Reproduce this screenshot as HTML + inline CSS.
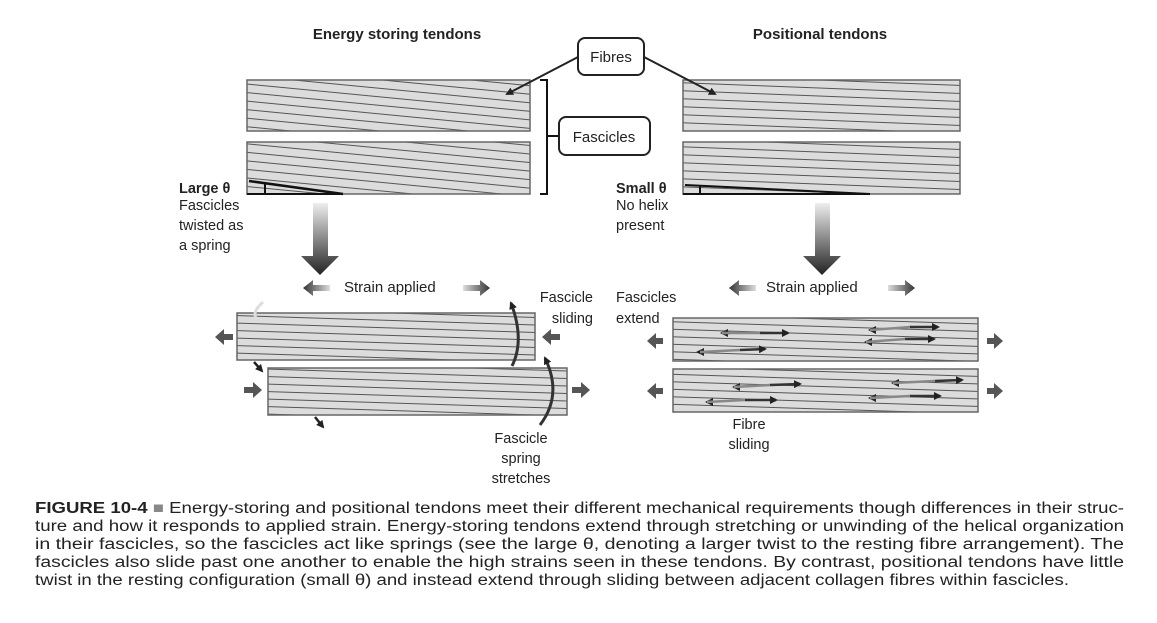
<!DOCTYPE html>
<html><head><meta charset="utf-8"><style>
html,body{margin:0;padding:0;background:#fff}
svg{display:block}
text{font-family:"Liberation Sans",sans-serif;fill:#222}
</style></head><body>
<svg width="1157" height="623" viewBox="0 0 1157 623" xmlns="http://www.w3.org/2000/svg">
<defs>
<pattern id="pL" width="40" height="8.5" patternUnits="userSpaceOnUse" patternTransform="rotate(5.5)"><rect width="40" height="8.5" fill="#dcdcdc"/><line x1="0" y1="0.5" x2="40" y2="0.5" stroke="#555" stroke-width="1"/></pattern>
<pattern id="pR" width="40" height="8" patternUnits="userSpaceOnUse" patternTransform="rotate(2.2)"><rect width="40" height="8" fill="#dcdcdc"/><line x1="0" y1="0.5" x2="40" y2="0.5" stroke="#555" stroke-width="1"/></pattern>
<pattern id="pB" width="40" height="7.5" patternUnits="userSpaceOnUse" patternTransform="rotate(1.8)"><rect width="40" height="7.5" fill="#dcdcdc"/><line x1="0" y1="0.5" x2="40" y2="0.5" stroke="#555" stroke-width="1"/></pattern>
<linearGradient id="gd" x1="0" y1="0" x2="0" y2="1"><stop offset="0" stop-color="#eee"/><stop offset="1" stop-color="#222"/></linearGradient>
<linearGradient id="gl" x1="1" y1="0" x2="0" y2="0"><stop offset="0" stop-color="#ddd"/><stop offset="1" stop-color="#333"/></linearGradient>
<linearGradient id="gr" x1="0" y1="0" x2="1" y2="0"><stop offset="0" stop-color="#ddd"/><stop offset="1" stop-color="#333"/></linearGradient>
<marker id="ah" markerWidth="8" markerHeight="8" refX="6" refY="4" orient="auto" markerUnits="userSpaceOnUse"><path d="M0,0 L8,4 L0,8 Z" fill="#222"/></marker>
</defs>

<text x="397" y="39" font-size="15" font-weight="bold" text-anchor="middle">Energy storing tendons</text>
<text x="820" y="39" font-size="15" font-weight="bold" text-anchor="middle">Positional tendons</text>

<rect x="247" y="80" width="283" height="51" fill="url(#pL)" stroke="#666" stroke-width="1.5"/>
<rect x="247" y="142" width="283" height="52" fill="url(#pL)" stroke="#666" stroke-width="1.5"/>
<path d="M249,181 L343,194" stroke="#111" stroke-width="2.5" fill="none"/>
<path d="M247,194 L343,194 M265,182 L265,194" stroke="#111" stroke-width="2" fill="none"/>
<rect x="683" y="80" width="277" height="51" fill="url(#pR)" stroke="#666" stroke-width="1.5"/>
<rect x="683" y="142" width="277" height="52" fill="url(#pR)" stroke="#666" stroke-width="1.5"/>
<path d="M685,185 L870,194 L683,194" stroke="#111" stroke-width="2" fill="none"/>
<path d="M700,185 L700,194" stroke="#111" stroke-width="2"/>

<path d="M540,80 L547,80 L547,194 L540,194 M547,136 L558,136" stroke="#111" stroke-width="2" fill="none"/>
<rect x="578" y="38" width="66" height="37" rx="7" fill="#fff" stroke="#222" stroke-width="2"/>
<text x="611" y="62" font-size="15" text-anchor="middle">Fibres</text>
<rect x="559" y="117" width="91" height="38" rx="7" fill="#fff" stroke="#222" stroke-width="2"/>
<text x="604" y="142" font-size="15" text-anchor="middle">Fascicles</text>
<line x1="578" y1="57" x2="507" y2="94" stroke="#222" stroke-width="2" marker-end="url(#ah)"/>
<line x1="644" y1="57" x2="715" y2="94" stroke="#222" stroke-width="2" marker-end="url(#ah)"/>

<text font-size="14.5"><tspan x="179" y="193" font-weight="bold">Large θ</tspan><tspan x="179" y="210">Fascicles</tspan><tspan x="179" y="230">twisted as</tspan><tspan x="179" y="250">a spring</tspan></text>
<text font-size="14.5"><tspan x="616" y="193" font-weight="bold">Small θ</tspan><tspan x="616" y="210">No helix</tspan><tspan x="616" y="230">present</tspan></text>

<path d="M313,203 L328,203 L328,256 L339,256 L320,275 L301,256 L313,256 Z" fill="url(#gd)"/>
<path d="M815,203 L830,203 L830,256 L841,256 L822,275 L803,256 L815,256 Z" fill="url(#gd)"/>

<text x="344" y="292" font-size="15">Strain applied</text>
<path d="M303,288 L313,280 L313,285 L330,285 L330,291 L313,291 L313,296 Z" fill="url(#gl)"/>
<path d="M490,288 L480,280 L480,285 L463,285 L463,291 L480,291 L480,296 Z" fill="url(#gr)"/>
<text x="766" y="292" font-size="15">Strain applied</text>
<path d="M729,288 L739,280 L739,285 L756,285 L756,291 L739,291 L739,296 Z" fill="url(#gl)"/>
<path d="M915,288 L905,280 L905,285 L888,285 L888,291 L905,291 L905,296 Z" fill="url(#gr)"/>

<rect x="237" y="313" width="298" height="47" fill="url(#pB)" stroke="#666" stroke-width="1.5"/>
<rect x="268" y="368" width="299" height="47" fill="url(#pB)" stroke="#666" stroke-width="1.5"/>
<path d="M215,337 L224,329 L224,334 L233,334 L233,340 L224,340 L224,345 Z" fill="#555"/>
<path d="M262,390 L253,382 L253,387 L244,387 L244,393 L253,393 L253,398 Z" fill="#555"/>
<path d="M542,337 L551,329 L551,334 L560,334 L560,340 L551,340 L551,345 Z" fill="#555"/>
<path d="M590,390 L581,382 L581,387 L572,387 L572,393 L581,393 L581,398 Z" fill="#555"/>
<path d="M263,302 Q252,312 256,318" stroke="#ddd" stroke-width="3" fill="none"/>
<path d="M254,362 L262,371" stroke="#222" stroke-width="2.5" marker-end="url(#ah)"/>
<path d="M315,417 L323,427" stroke="#222" stroke-width="2.5" marker-end="url(#ah)"/>
<path d="M512,366 Q525,340 511,303" stroke="#333" stroke-width="3" fill="none" marker-end="url(#ah)"/>
<path d="M540,425 Q563,395 545,358" stroke="#333" stroke-width="3" fill="none" marker-end="url(#ah)"/>
<text font-size="14.5" text-anchor="end"><tspan x="593" y="302">Fascicle</tspan><tspan x="593" y="323">sliding</tspan></text>
<text font-size="14.5" text-anchor="middle"><tspan x="521" y="443">Fascicle</tspan><tspan x="521" y="463">spring</tspan><tspan x="521" y="483">stretches</tspan></text>

<rect x="673" y="318" width="305" height="43" fill="url(#pB)" stroke="#666" stroke-width="1.5"/>
<rect x="673" y="369" width="305" height="43" fill="url(#pB)" stroke="#666" stroke-width="1.5"/>
<text font-size="14.5"><tspan x="616" y="302">Fascicles</tspan><tspan x="616" y="323">extend</tspan></text>
<path d="M647,341 L656,333 L656,338 L663,338 L663,344 L656,344 L656,349 Z" fill="#555"/>
<path d="M647,391 L656,383 L656,388 L663,388 L663,394 L656,394 L656,399 Z" fill="#555"/>
<path d="M1003,341 L994,333 L994,338 L987,338 L987,344 L994,344 L994,349 Z" fill="#555"/>
<path d="M1003,391 L994,383 L994,388 L987,388 L987,394 L994,394 L994,399 Z" fill="#555"/>
<g stroke="#333" stroke-width="2.5" fill="none">
<line x1="730" y1="333" x2="722" y2="333" marker-end="url(#ah)"/><line x1="760" y1="333" x2="788" y2="333" marker-end="url(#ah)"/><line x1="722" y1="333" x2="760" y2="333" stroke="#888"/>
<line x1="705" y1="352" x2="698" y2="352" marker-end="url(#ah)"/><line x1="740" y1="350" x2="765" y2="349" marker-end="url(#ah)"/><line x1="700" y1="352" x2="740" y2="350" stroke="#888"/>
<line x1="875" y1="330" x2="870" y2="330" marker-end="url(#ah)"/><line x1="910" y1="327" x2="938" y2="327" marker-end="url(#ah)"/><line x1="870" y1="330" x2="910" y2="327" stroke="#888"/>
<line x1="870" y1="342" x2="866" y2="342" marker-end="url(#ah)"/><line x1="905" y1="339" x2="934" y2="339" marker-end="url(#ah)"/><line x1="866" y1="342" x2="905" y2="339" stroke="#888"/>
<line x1="738" y1="387" x2="734" y2="387" marker-end="url(#ah)"/><line x1="770" y1="385" x2="800" y2="384" marker-end="url(#ah)"/><line x1="734" y1="387" x2="770" y2="385" stroke="#888"/>
<line x1="712" y1="402" x2="707" y2="402" marker-end="url(#ah)"/><line x1="745" y1="400" x2="776" y2="400" marker-end="url(#ah)"/><line x1="707" y1="402" x2="745" y2="400" stroke="#888"/>
<line x1="898" y1="383" x2="893" y2="383" marker-end="url(#ah)"/><line x1="935" y1="381" x2="962" y2="380" marker-end="url(#ah)"/><line x1="893" y1="383" x2="935" y2="381" stroke="#888"/>
<line x1="875" y1="398" x2="870" y2="398" marker-end="url(#ah)"/><line x1="910" y1="396" x2="940" y2="396" marker-end="url(#ah)"/><line x1="870" y1="398" x2="910" y2="396" stroke="#888"/>
</g>
<text font-size="14.5" text-anchor="middle"><tspan x="749" y="429">Fibre</tspan><tspan x="749" y="449">sliding</tspan></text>

<g font-size="15.5">
<text x="35" y="513" textLength="1089" lengthAdjust="spacingAndGlyphs"><tspan font-weight="bold">FIGURE 10-4</tspan> <tspan fill="#888">■</tspan> Energy-storing and positional tendons meet their different mechanical requirements though differences in their struc-</text>
<text x="35" y="531" textLength="1089" lengthAdjust="spacingAndGlyphs">ture and how it responds to applied strain. Energy-storing tendons extend through stretching or unwinding of the helical organization</text>
<text x="35" y="549" textLength="1089" lengthAdjust="spacingAndGlyphs">in their fascicles, so the fascicles act like springs (see the large θ, denoting a larger twist to the resting fibre arrangement). The</text>
<text x="35" y="567" textLength="1089" lengthAdjust="spacingAndGlyphs">fascicles also slide past one another to enable the high strains seen in these tendons. By contrast, positional tendons have little</text>
<text x="35" y="585" textLength="1034" lengthAdjust="spacingAndGlyphs">twist in the resting configuration (small θ) and instead extend through sliding between adjacent collagen fibres within fascicles.</text>
</g>
</svg>
</body></html>
